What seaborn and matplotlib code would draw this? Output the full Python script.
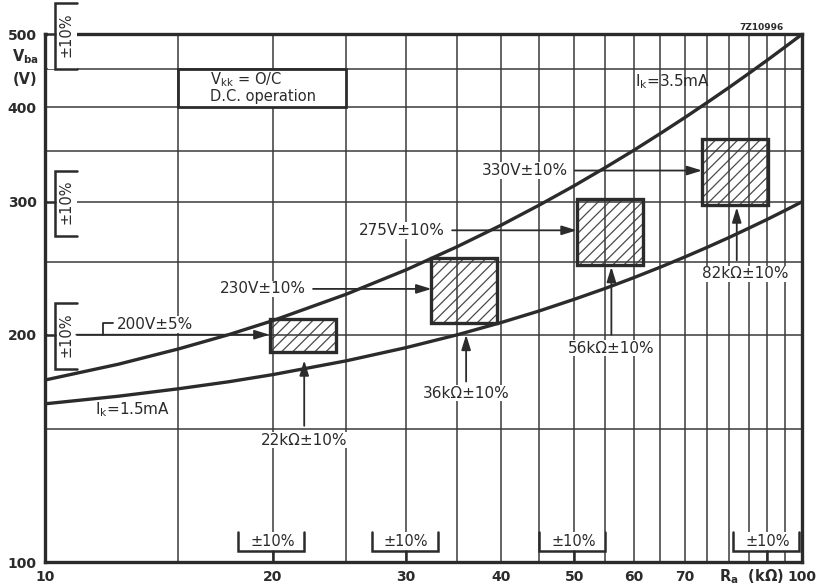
import matplotlib
matplotlib.use("Agg")
import matplotlib.pyplot as plt
from matplotlib.patches import Rectangle
from matplotlib.ticker import NullLocator
import pandas as pd
import seaborn as sns

# Supply voltage V_ba (V) versus anode load R_a (kOhm) at the two cathode-current limits
r_upper = [10, 12.5, 15, 17.5, 20, 25, 30, 35, 40, 45, 50, 55, 60, 65, 70, 75, 80, 85, 90, 95, 100]
v_upper = [174.2, 182.8, 191.5, 200.1, 208.8, 226.3, 243.8, 261.5, 279.2, 297.1, 315.0,
           333.1, 351.2, 369.5, 387.8, 406.3, 424.8, 443.5, 462.2, 481.1, 500.0]
r_lower = [10, 12.5, 15, 17.5, 20, 25, 30, 35, 40, 45, 50, 55, 60, 65, 70, 75, 80, 85, 90, 95, 100]
v_lower = [162.0, 165.8, 169.6, 173.3, 177.1, 184.7, 192.3, 199.9, 207.5, 215.1, 222.8,
           230.4, 238.1, 245.8, 253.5, 261.2, 268.9, 276.7, 284.4, 292.2, 300.0]
curve_names = ["3.5mA", "1.5mA"]

# Recommended operating windows (nominal value and relative tolerance)
box_r = [22, 36, 56, 82]
box_r_tol = [0.10, 0.10, 0.10, 0.10]
box_v = [200, 230, 275, 330]
box_v_tol = [0.05, 0.10, 0.10, 0.10]
box_v_labels = ["200V±5%", "230V±10%", "275V±10%", "330V±10%"]
box_r_labels = ["22kΩ±10%", "36kΩ±10%", "56kΩ±10%", "82kΩ±10%"]

# Axis ticks, grid and the ±10 % scale brackets
x_ticks = [10, 20, 30, 40, 50, 60, 70, 100]
x_tick_labels = ["10", "20", "30", "40", "50", "60", "70", "100"]
y_ticks = [100, 200, 300, 400, 500]
y_tick_labels = ["100", "200", "300", "400", "500"]
x_grid = list(range(15, 100, 5))
y_grid = [150, 200, 250, 300, 350, 400, 450]
x_scale_marks = [20, 30, 50, 90]
y_scale_marks = [200, 300, 500]
scale_tol = 0.10

ink = "#2b2b2b"
grid_ink = "#3a3a3a"

sns.set_theme(style="white")
plt.rcParams["font.family"] = ["DejaVu Sans"]
plt.rcParams["hatch.linewidth"] = 0.9
plt.rcParams["mathtext.fontset"] = "dejavusans"

fig = plt.figure(figsize=(8.19, 5.87), dpi=100)
fig.patch.set_facecolor("white")
W, H = 819, 587
ax = fig.add_axes([45 / W, 25 / H, 757 / W, 527.7 / H])
ax.set_facecolor("white")
ax.set_xscale("log")
ax.set_yscale("log")
ax.set_xlim(10, 100)
ax.set_ylim(100, 500)

# grid
for r in x_grid:
    ax.axvline(r, color=grid_ink, lw=1.1, zorder=1)
for v in y_grid:
    ax.axhline(v, color=grid_ink, lw=1.1, zorder=1)

# current-limit curves
df = pd.DataFrame({
    "R": r_upper + r_lower,
    "V": v_upper + v_lower,
    "curve": [curve_names[0]] * len(r_upper) + [curve_names[1]] * len(r_lower),
})
sns.lineplot(data=df, x="R", y="V", hue="curve", palette=[ink, ink],
             estimator=None, sort=False, lw=2.4, legend=False, ax=ax, zorder=4)

# hatched operating windows
for r, rt, v, vt in zip(box_r, box_r_tol, box_v, box_v_tol):
    r0, r1 = r * (1 - rt), r * (1 + rt)
    v0, v1 = v * (1 - vt), v * (1 + vt)
    ax.add_patch(Rectangle((r0, v0), r1 - r0, v1 - v0, facecolor="white",
                           edgecolor="#4a4a4a", hatch="///", lw=0, zorder=0.5))
    ax.add_patch(Rectangle((r0, v0), r1 - r0, v1 - v0, facecolor="none",
                           edgecolor=ink, lw=2.4, zorder=3))

arrow_kw = dict(arrowstyle="-|>,head_length=0.9,head_width=0.28", color=ink,
                lw=1.3, shrinkA=0, shrinkB=0, mutation_scale=10)
label_kw = dict(fontsize=11, color=ink, zorder=5,
                bbox=dict(facecolor="white", edgecolor="none", pad=0.5))

# voltage call-outs (horizontal arrows)
v_tail_r = [11.0, 22.6, 34.5, 50.1]
for r, rt, v, tail in zip(box_r, box_r_tol, box_v, v_tail_r):
    ax.annotate("", xy=(r * (1 - rt), v), xytext=(tail, v),
                arrowprops=arrow_kw, zorder=4)
ax.plot([11.93, 11.93, 12.3], [200, 207.2, 207.2], color=ink, lw=1.3, zorder=4)
ax.text(12.45, 206.5, box_v_labels[0], ha="left", va="center", **label_kw)
v_text_r = [None, 22.1, 33.7, 49.1]
for lab, v, tr in zip(box_v_labels[1:], box_v[1:], v_text_r[1:]):
    ax.text(tr, v, lab, ha="right", va="center", **label_kw)

# resistance call-outs (vertical arrows)
r_tail_v = [151.5, 173.4, 200, 251]
r_tip_v = [185, 200, 246, 295]
r_text_pos = [(22, 145), (36, 167.4), (56, 192), (84.2, 240.7)]
for r, lab, tail, tip, (tx, ty) in zip(box_r, box_r_labels, r_tail_v, r_tip_v, r_text_pos):
    ax.annotate("", xy=(r, tip), xytext=(r, tail), arrowprops=arrow_kw, zorder=4)
    ax.text(tx, ty, lab, ha="center", va="center", **label_kw)

# curve labels
ax.text(60.1, 433, r"I$_\mathregular{k}$=3.5mA", ha="left", va="center",
        fontsize=11, color=ink, zorder=5)
ax.text(11.64, 159, r"I$_\mathregular{k}$=1.5mA", ha="left", va="center",
        fontsize=11, color=ink, zorder=5)

# operating-condition box
ax.add_patch(Rectangle((15, 400), 10, 50, facecolor="white", edgecolor=ink,
                       lw=2.0, zorder=2.7))
ax.text(16.5, 436, r"V$_\mathregular{kk}$ = O/C", ha="left", va="center",
        fontsize=10.5, color=ink, zorder=5)
ax.text(16.5, 413, "D.C. operation", ha="left", va="center",
        fontsize=10.5, color=ink, zorder=5)

# ±10 % scale brackets on the voltage axis
ytr = ax.get_yaxis_transform()
bx0, bx1 = 0.0132, 0.042
for v in y_scale_marks:
    lo, hi = v * (1 - scale_tol), v * (1 + scale_tol)
    ax.add_patch(Rectangle((0.004, lo), 0.038, hi - lo, transform=ytr,
                           facecolor="white", edgecolor="none", zorder=2.6,
                           clip_on=False))
    ax.plot([bx1, bx0, bx0, bx1], [lo, lo, hi, hi], transform=ytr, color=ink,
            lw=1.8, zorder=3, clip_on=False, solid_joinstyle="miter")
    ax.plot([0, bx0], [v, v], transform=ytr, color=ink, lw=1.8, zorder=3,
            clip_on=False)
    ax.text(0.028, v, "±10%", transform=ytr, rotation=90, ha="center",
            va="center", fontsize=10.5, color=ink, zorder=5, clip_on=False)

# ±10 % scale brackets on the resistance axis
xtr = ax.get_xaxis_transform()
by0, by1 = 0.0208, 0.056
for r in x_scale_marks:
    lo, hi = r * (1 - scale_tol), r * (1 + scale_tol)
    ax.add_patch(Rectangle((lo, by0), hi - lo, by1 - by0, transform=xtr,
                           facecolor="white", edgecolor="none", zorder=2.6))
    ax.plot([lo, lo, hi, hi], [by1, by0, by0, by1], transform=xtr, color=ink,
            lw=1.8, zorder=3, solid_joinstyle="miter")
    ax.plot([r, r], [0, by0], transform=xtr, color=ink, lw=1.8, zorder=3)
    ax.text(r, 0.039, "±10%", transform=xtr, ha="center", va="center",
            fontsize=10.5, color=ink, zorder=5)

# axes frame and ticks
for s in ax.spines.values():
    s.set_color(ink)
    s.set_linewidth(2.4)
    s.set_zorder(2.5)
ax.set_xticks(x_ticks)
ax.set_xticklabels(x_tick_labels)
ax.set_yticks(y_ticks)
ax.set_yticklabels(y_tick_labels)
ax.xaxis.set_minor_locator(NullLocator())
ax.yaxis.set_minor_locator(NullLocator())
ax.tick_params(axis="both", length=0, labelsize=10, labelcolor=ink)
ax.tick_params(axis="x", pad=6)
ax.tick_params(axis="y", pad=6)
for t in ax.get_xticklabels() + ax.get_yticklabels():
    t.set_fontweight("bold")
ax.set_xlabel("")
ax.set_ylabel("")

ax.text(85.7, -0.028, r"R$_\mathregular{a}$  (kΩ)", transform=xtr, ha="center",
        va="center", fontsize=10.5, fontweight="bold", color=ink)
fig.text(25 / W, 1 - 57 / H, r"V$_\mathregular{ba}$", ha="center", va="center",
         fontsize=10.5, fontweight="bold", color=ink)
fig.text(25 / W, 1 - 80 / H, "(V)", ha="center", va="center",
         fontsize=10.5, fontweight="bold", color=ink)
fig.text(761 / W, 1 - 28 / H, "7Z10996", ha="center", va="center",
         fontsize=6.5, fontweight="bold", color=ink)

fig.savefig("out.png", dpi=100, facecolor="white")
